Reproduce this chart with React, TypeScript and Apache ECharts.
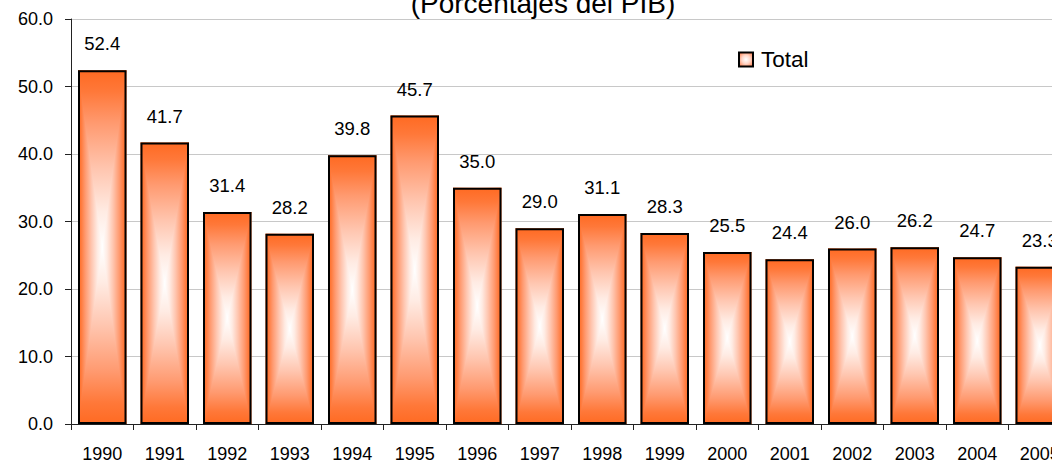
import React, { useEffect, useRef } from "react";
import * as echarts from "echarts";

const years = ["1990", "1991", "1992", "1993", "1994", "1995", "1996", "1997", "1998", "1999", "2000", "2001", "2002", "2003", "2004", "2005"];
const totals = [52.4, 41.7, 31.4, 28.2, 39.8, 45.7, 35.0, 29.0, 31.1, 28.3, 25.5, 24.4, 26.0, 26.2, 24.7, 23.3];
const yTicks = { min: 0, max: 60, interval: 10 };
const titleText = "(Porcentajes del PIB)";
const seriesName = "Total";

const FONT = "'Liberation Sans', Arial, sans-serif";
const BAR_W = 48.5;

const profile = [
  [0, "#FF6A22"],
  [0.06, "#FF7839"],
  [0.15, "#FF9A70"],
  [0.28, "#FFC6B0"],
  [0.4, "#FFEBE3"],
  [0.5, "#FFFFFF"],
];

function hStops() {
  const s: any[] = profile.map(([o, c]) => ({ offset: o as number, color: c }));
  const m = profile
    .slice(0, -1)
    .reverse()
    .map(([o, c]) => ({ offset: 1 - (o as number), color: c }));
  return s.concat(m);
}
function vStops() {
  return profile.map(([o, c]) => ({ offset: (o as number) * 2, color: c }));
}

export default function App() {
  const ref = useRef<HTMLDivElement>(null);
  useEffect(() => {
    if (!ref.current) return;
    const chart = echarts.init(ref.current, undefined, { renderer: "svg" });
    const hGrad = { type: "linear", x: 0, y: 0, x2: 1, y2: 0, colorStops: hStops() };
    const vTop = { type: "linear", x: 0, y: 0, x2: 0, y2: 1, colorStops: vStops() };
    const vBot = { type: "linear", x: 0, y: 1, x2: 0, y2: 0, colorStops: vStops() };
    chart.setOption({
      animation: false,
      backgroundColor: "#fff",
      textStyle: { fontFamily: FONT },
      graphic: [
        {
          type: "text",
          x: 543,
          y: 3.3,
          style: {
            text: titleText,
            fontSize: 28,
            fontFamily: FONT,
            fill: "#000",
            align: "center",
            verticalAlign: "middle",
            textAlign: "center",
            textVerticalAlign: "middle",
          },
          z: 10,
        },
      ],
      legend: {
        left: 738,
        top: 48,
        padding: 0,
        itemWidth: 14,
        itemHeight: 14,
        textStyle: { fontSize: 22.5, color: "#000", fontFamily: FONT, padding: [0, 0, 0, 3] },
        data: [
          {
            name: seriesName,
            icon: "rect",
            itemStyle: {
              color: {
                type: "radial",
                x: 0.5,
                y: 0.5,
                r: 0.6,
                colorStops: [
                  { offset: 0, color: "#FFFFFF" },
                  { offset: 0.5, color: "#FFD6C8" },
                  { offset: 1, color: "#FF8A5C" },
                ],
              },
              borderColor: "#000",
              borderWidth: 2,
            },
          },
        ],
      },
      grid: { left: 71, right: 9, top: 19, bottom: 41, containLabel: false },
      xAxis: {
        type: "category",
        data: years,
        axisLine: { lineStyle: { color: "#222", width: 1 } },
        axisTick: { show: true, length: 6, lineStyle: { color: "#222" } },
        axisLabel: { interval: 0, fontSize: 18, margin: 21, color: "#000", fontFamily: FONT },
      },
      yAxis: {
        type: "value",
        min: yTicks.min,
        max: yTicks.max,
        interval: yTicks.interval,
        axisLine: { show: true, lineStyle: { color: "#222", width: 1 } },
        axisTick: { show: true, length: 6, lineStyle: { color: "#222" } },
        axisLabel: {
          fontSize: 18,
          margin: 18,
          color: "#000",
          fontFamily: FONT,
          formatter: (v: number) => v.toFixed(1),
        },
        splitLine: { lineStyle: { color: "#c8c8c8", width: 1 } },
      },
      series: [
        {
          type: "custom",
          name: "gradient",
          z: 2,
          silent: true,
          data: totals.map((v, i) => [i, v]),
          encode: { x: 0, y: 1 },
          renderItem: (params: any, api: any) => {
            const idx = api.value(0);
            const v = api.value(1);
            const top = api.coord([idx, v]);
            const bot = api.coord([idx, 0]);
            const x0 = top[0] - BAR_W / 2;
            const x1 = top[0] + BAR_W / 2;
            const y0 = top[1];
            const y1 = bot[1];
            const ym = (y0 + y1) / 2;
            const xm = top[0];
            return {
              type: "group",
              children: [
                { type: "rect", shape: { x: x0, y: y0, width: BAR_W, height: y1 - y0 }, style: { fill: hGrad } },
                { type: "polygon", shape: { points: [[x0, y0], [x1, y0], [xm, ym]] }, style: { fill: vTop } },
                { type: "polygon", shape: { points: [[x0, y1], [x1, y1], [xm, ym]] }, style: { fill: vBot } },
              ],
            };
          },
        },
        {
          type: "bar",
          name: seriesName,
          z: 3,
          data: totals,
          barWidth: BAR_W,
          itemStyle: { color: "rgba(0,0,0,0)", borderColor: "#000", borderWidth: 2 },
          label: {
            show: true,
            position: "top",
            distance: 17,
            fontSize: 18.5,
            color: "#000",
            fontFamily: FONT,
            formatter: (p: any) => Number(p.value).toFixed(1),
          },
        },
      ],
    });
    return () => chart.dispose();
  }, []);
  return (
    <div
      style={{
        position: "fixed",
        left: 0,
        top: 0,
        width: 1052,
        height: 465,
        overflow: "hidden",
        background: "#fff",
      }}
    >
      <div ref={ref} style={{ width: 1080, height: 465 }} />
    </div>
  );
}
